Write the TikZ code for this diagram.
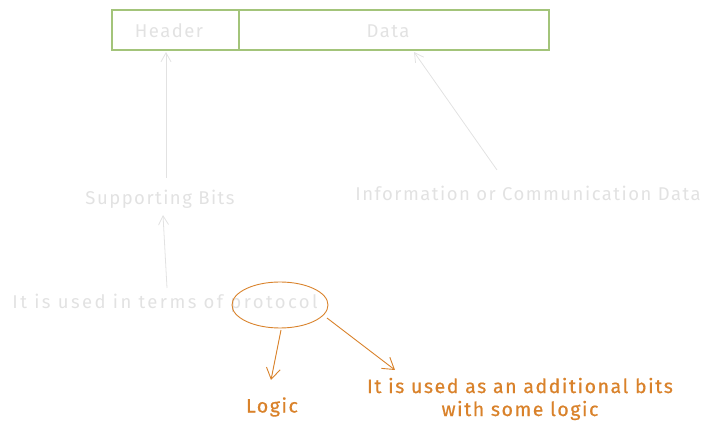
\documentclass[tikz,border=0pt]{standalone}
\usepackage{fontspec}
\setmainfont{Fira Sans}
\usetikzlibrary{arrows.meta,shapes.geometric}
\definecolor{grn}{HTML}{A3C47A}
\definecolor{lgray}{HTML}{E2E2E2}
\definecolor{org}{HTML}{D9822B}
\begin{document}
\begin{tikzpicture}[x=1pt,y=-1pt,
  faint/.style={text=lgray,font=\fontsize{18.5}{22}\selectfont\addfontfeatures{LetterSpace=8}},
  wide/.style={text=lgray,font=\fontsize{18.5}{22}\selectfont\addfontfeatures{LetterSpace=13}},
  warm/.style={text=org,font=\fontsize{19.5}{23}\selectfont\addfontfeatures{LetterSpace=8,FakeBold=0.6},align=center},
  farrow/.style={draw=lgray,line width=0.8pt,-{Straight Barb[length=9pt,width=10pt]}},
  oarrow/.style={draw=org,line width=0.9pt,-{Straight Barb[length=11pt,width=14pt]}},
  cell/.style={draw=grn,line width=1.3pt,minimum height=40pt,inner sep=0pt}]
\useasboundingbox (0,0) rectangle (713,435);
\node[cell,minimum width=127pt] (hdr) at (175.5,30) {};
\node[cell,minimum width=310pt] (dat) at (394,30) {};
\node[faint] (hdrt) at (169,31) {Header};
\node[faint] (datt) at (388,31) {Data};
\node[faint] (sup) at (160,199) {Supporting Bits};
\node[faint] (info) at (528,193) {Information or Communication Data};
\node[wide] (used) at (165,303) {It is used in terms of protocol};
\node[draw=org,line width=0.9pt,ellipse,minimum width=96pt,minimum height=46pt] (ell) at (280,305) {};
\node[warm] (logic) at (272,407) {Logic};
\node[warm] (add) at (520,399) {It is used as an additional bits\\with some logic};
\coordinate (s1) at (166,178);
\coordinate (e1) at (166,52);
\coordinate (s2) at (497,170);
\coordinate (e2) at (414,52);
\coordinate (s3) at (167,288);
\coordinate (e3) at (163,215);
\coordinate (s4) at (281,330);
\coordinate (e4) at (271,380);
\coordinate (s5) at (327,318);
\coordinate (e5) at (395,370);
\draw[farrow] (s1) -- (e1);
\draw[farrow] (s2) -- (e2);
\draw[farrow] (s3) -- (e3);
\draw[oarrow] (s4) -- (e4);
\draw[oarrow] (s5) -- (e5);
\end{tikzpicture}
\end{document}
